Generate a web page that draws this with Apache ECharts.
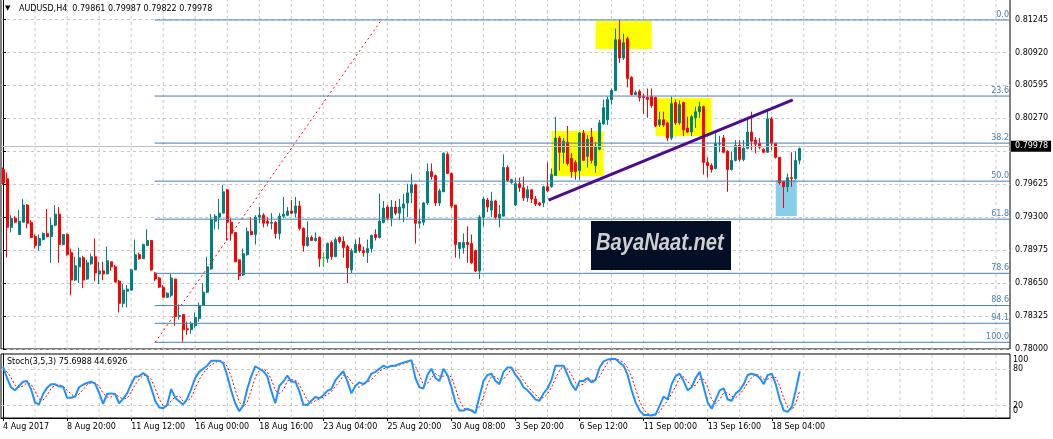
<!DOCTYPE html>
<html><head><meta charset="utf-8">
<script src="https://cdn.jsdelivr.net/npm/echarts/dist/echarts.min.js"></script>
<style>html,body{margin:0;padding:0;background:#fff;overflow:hidden}#c{width:1053px;height:439px}</style>
</head><body><div id="c"></div>
<script>
// ---- data (AUDUSD H4, bars from 4 Aug 2017 08:00) ----
const opens = [0.7977,0.7968,0.7920,0.7929,0.7913,0.7925,0.7942,0.7925,0.7911,0.7902,0.7908,0.7914,0.7911,0.7922,0.7933,0.7903,0.7913,0.7895,0.7868,0.7881,
0.7890,0.7869,0.7884,0.7891,0.7874,0.7877,0.7874,0.7886,0.7881,0.7867,0.7845,0.7857,0.7858,0.7878,0.7893,0.7889,0.7902,0.7907,0.7875,0.7870,
0.7861,0.7851,0.7853,0.7869,0.7832,0.7834,0.7820,0.7819,0.7823,0.7830,0.7843,0.7856,0.7879,0.7926,0.7930,0.7934,0.7957,0.7925,0.7915,0.7888,
0.7873,0.7893,0.7916,0.7913,0.7930,0.7932,0.7926,0.7924,0.7925,0.7914,0.7931,0.7932,0.7936,0.7934,0.7941,0.7919,0.7902,0.7910,0.7907,0.7910,
0.7890,0.7889,0.7905,0.7891,0.7910,0.7906,0.7901,0.7878,0.7895,0.7903,0.7897,0.7895,0.7899,0.7913,0.7910,0.7925,0.7940,0.7929,0.7940,0.7934,
0.7939,0.7944,0.7954,0.7962,0.7924,0.7925,0.7944,0.7975,0.7971,0.7944,0.7955,0.7992,0.7973,0.7942,0.7899,0.7900,0.7905,0.7904,0.7897,0.7877,
0.7930,0.7947,0.7937,0.7946,0.7929,0.7931,0.7979,0.7964,0.7942,0.7963,0.7959,0.7949,0.7957,0.7948,0.7944,0.7944,0.7960,0.7960,0.7971,0.8008,
0.7994,0.8004,0.7988,0.7984,0.7976,0.8013,0.7990,0.8009,0.7981,0.7997,0.8022,0.8026,0.8046,0.8055,0.8105,0.8087,0.8106,0.8068,0.8051,0.8054,
0.8049,0.8048,0.8049,0.8048,0.8021,0.8026,0.8023,0.8008,0.8043,0.8023,0.8043,0.8018,0.8014,0.8028,0.8034,0.8039,0.7984,0.7981,0.7978,0.8002,
0.8008,0.7995,0.7977,0.7986,0.8001,0.7987,0.7998,0.8014,0.8006,0.8003,0.7997,0.7994,0.8027,0.8003,0.7989,0.7965,0.7960,0.7969,0.7968,0.79861];
const highs = [0.7979,0.7974,0.7932,0.7931,0.7937,0.7948,0.7943,0.7927,0.7913,0.7913,0.7915,0.7938,0.7929,0.7942,0.7940,0.7913,0.7914,0.7899,0.7891,0.7900,
0.7892,0.7888,0.7894,0.7909,0.7886,0.7886,0.7901,0.7886,0.7883,0.7868,0.7864,0.7863,0.7879,0.7908,0.7895,0.7904,0.7918,0.7907,0.7876,0.7871,
0.7863,0.7856,0.7874,0.7869,0.7844,0.7834,0.7827,0.7827,0.7836,0.7846,0.7865,0.7891,0.7933,0.7933,0.7948,0.7962,0.7958,0.7929,0.7915,0.7888,
0.7899,0.7920,0.7930,0.7932,0.7940,0.7934,0.7930,0.7934,0.7926,0.7934,0.7950,0.7940,0.7947,0.7950,0.7946,0.7920,0.7926,0.7912,0.7915,0.7911,
0.7895,0.7905,0.7907,0.7910,0.7911,0.7911,0.7903,0.7899,0.7908,0.7910,0.7901,0.7908,0.7913,0.7918,0.7953,0.7946,0.7942,0.7947,0.7946,0.7948,
0.7953,0.7963,0.7973,0.7963,0.7938,0.7945,0.7983,0.7983,0.7972,0.7958,0.7994,0.7994,0.7974,0.7942,0.7905,0.7914,0.7921,0.7913,0.7898,0.7932,
0.7950,0.7949,0.7955,0.7947,0.7942,0.7992,0.7981,0.7968,0.7969,0.7969,0.7970,0.7961,0.7958,0.7951,0.7945,0.7961,0.7984,0.7978,0.8029,0.8010,
0.8008,0.8020,0.7993,0.7986,0.8014,0.8016,0.8011,0.8018,0.8004,0.8026,0.8046,0.8049,0.8057,0.8116,0.81245,0.8111,0.8108,0.8069,0.8055,0.8056,
0.8052,0.8057,0.8057,0.8049,0.8034,0.8034,0.8024,0.8049,0.8046,0.8045,0.8044,0.8029,0.8031,0.8039,0.8044,0.8040,0.7989,0.7983,0.8016,0.8010,
0.8011,0.7996,0.7995,0.8006,0.8006,0.8006,0.8028,0.8034,0.8009,0.8008,0.7998,0.8036,0.8029,0.8003,0.7989,0.7965,0.7973,0.7994,0.7995,0.79987];
const lows = [0.7962,0.7890,0.7915,0.7924,0.7913,0.7925,0.7919,0.7909,0.7899,0.7897,0.7907,0.7910,0.7885,0.7921,0.7885,0.7902,0.7892,0.7853,0.7867,0.7865,
0.7860,0.7868,0.7883,0.7867,0.7864,0.7868,0.7874,0.7877,0.7866,0.7836,0.7841,0.7841,0.7858,0.7878,0.7888,0.7889,0.7902,0.7877,0.7867,0.7860,
0.7851,0.7850,0.7851,0.7823,0.7829,0.7807,0.7814,0.7815,0.7821,0.7827,0.7843,0.7855,0.7878,0.7918,0.7918,0.7934,0.7907,0.7907,0.7886,0.7868,
0.7872,0.7892,0.7912,0.7903,0.7924,0.7920,0.7921,0.7918,0.7909,0.7908,0.7929,0.7931,0.7933,0.7930,0.7917,0.7896,0.7901,0.7907,0.7906,0.7881,
0.7881,0.7885,0.7888,0.7891,0.7904,0.7890,0.7865,0.7875,0.7895,0.7895,0.7891,0.7885,0.7895,0.7907,0.7909,0.7924,0.7927,0.7921,0.7932,0.7927,
0.7925,0.7930,0.7944,0.7904,0.7919,0.7922,0.7942,0.7967,0.7941,0.7941,0.7955,0.7973,0.7939,0.7890,0.7889,0.7894,0.7885,0.7884,0.7876,0.7869,
0.7921,0.7935,0.7930,0.7928,0.7920,0.7931,0.7965,0.7963,0.7941,0.7955,0.7946,0.7945,0.7944,0.7941,0.7941,0.7940,0.7955,0.7959,0.7971,0.7976,
0.7983,0.7981,0.7969,0.7967,0.7967,0.7986,0.7979,0.7983,0.7974,0.7996,0.8021,0.8021,0.8041,0.8055,0.8082,0.8085,0.8058,0.8050,0.8051,0.8044,
0.8032,0.8028,0.8038,0.8019,0.8019,0.8019,0.8005,0.8006,0.8021,0.8021,0.8010,0.8013,0.8010,0.8018,0.8028,0.7972,0.7969,0.7974,0.7977,0.7994,
0.7993,0.7955,0.7976,0.7985,0.7985,0.7985,0.7997,0.7996,0.7993,0.7997,0.7993,0.7994,0.7996,0.7988,0.7962,0.7939,0.7955,0.7960,0.7967,0.79822];
const closes = [0.7964,0.7920,0.7929,0.7925,0.7926,0.7942,0.7924,0.7910,0.7902,0.7909,0.7914,0.7911,0.7922,0.7933,0.7903,0.7913,0.7893,0.7868,0.7882,0.7890,
0.7868,0.7885,0.7891,0.7875,0.7877,0.7874,0.7887,0.7881,0.7866,0.7845,0.7858,0.7859,0.7878,0.7893,0.7889,0.7903,0.7907,0.7878,0.7869,0.7861,
0.7851,0.7855,0.7870,0.7832,0.7833,0.7819,0.7819,0.7825,0.7831,0.7843,0.7856,0.7881,0.7928,0.7931,0.7934,0.7955,0.7925,0.7914,0.7886,0.7872,
0.7894,0.7916,0.7913,0.7930,0.7932,0.7924,0.7924,0.7925,0.7914,0.7931,0.7933,0.7936,0.7934,0.7941,0.7919,0.7902,0.7910,0.7907,0.7909,0.7889,
0.7890,0.7904,0.7891,0.7908,0.7906,0.7900,0.7880,0.7897,0.7903,0.7897,0.7895,0.7899,0.7912,0.7910,0.7926,0.7939,0.7929,0.7940,0.7934,0.7940,
0.7943,0.7954,0.7962,0.7924,0.7926,0.7944,0.7975,0.7970,0.7944,0.7956,0.7993,0.7973,0.7941,0.7903,0.7905,0.7905,0.7903,0.7885,0.7877,0.7930,
0.7948,0.7940,0.7946,0.7930,0.7933,0.7979,0.7966,0.7967,0.7963,0.7959,0.7949,0.7957,0.7948,0.7943,0.7942,0.7960,0.7956,0.7972,0.8008,0.7994,
0.8005,0.7983,0.7975,0.7975,0.8013,0.7986,0.8007,0.7986,0.8000,0.8023,0.8038,0.8046,0.8055,0.8105,0.8087,0.8102,0.8067,0.8051,0.8053,0.8048,
0.8048,0.8046,0.8040,0.8020,0.8026,0.8021,0.8008,0.8042,0.8023,0.8041,0.8016,0.8014,0.8029,0.8034,0.8039,0.7984,0.7981,0.7977,0.8003,0.8003,
0.7994,0.7977,0.7986,0.8001,0.7987,0.7998,0.8014,0.8005,0.8002,0.7999,0.7994,0.8027,0.8003,0.7989,0.7964,0.7960,0.7969,0.7968,0.7986,0.79978];
const stochK = [84,65,50,45,52,59,60,47,25,22,39,49,55,55,51,51,33,33,35,50,54,57,59,56,41,23,39,40,39,24,
31,40,55,67,68,73,68,49,28,17,16,21,47,33,27,22,31,47,65,75,80,85,93,93,93,89,69,44,24,11,
20,47,68,84,80,76,68,44,24,52,59,69,59,59,44,22,21,28,34,32,37,44,47,61,69,76,60,40,52,58,
55,60,72,75,80,85,82,85,85,88,90,92,94,65,50,48,70,80,65,60,80,70,50,25,12,12,15,12,8,35,
60,70,72,60,55,75,82,82,70,62,50,45,38,30,28,40,48,62,85,85,85,70,55,45,60,60,65,58,62,82,
92,95,96,96,90,85,70,45,25,12,5,5,4,6,20,35,30,55,68,72,60,45,50,65,75,50,25,15,30,45,
48,30,28,40,45,55,70,72,70,65,55,70,72,55,30,12,10,18,45,75.6988];
const stochD = [80,75,66,53,49,52,57,55,44,31,29,37,48,53,54,52,45,39,34,39,46,54,57,57,52,40,34,34,39,34,
31,32,42,54,63,69,70,63,48,31,20,18,28,34,36,27,27,33,48,62,73,80,86,90,93,92,84,67,46,26,
18,26,45,66,77,80,75,63,45,40,45,60,62,62,54,42,29,24,28,31,34,38,43,51,59,69,68,59,51,50,
55,58,62,69,76,80,82,84,84,86,88,90,92,84,70,54,56,66,72,68,68,70,67,48,29,16,13,13,12,18,
34,55,67,67,62,63,71,80,78,71,61,52,44,38,32,33,39,50,65,77,85,80,70,57,53,55,62,61,62,67,
79,90,94,96,94,90,82,67,47,27,14,7,5,5,10,20,28,40,51,65,67,59,52,53,63,63,50,30,23,30,
41,41,35,33,38,47,57,66,71,69,63,63,66,66,52,32,17,13,24,44.6926];
const xTickLabels = ['4 Aug 2017','8 Aug 20:00','11 Aug 12:00','16 Aug 00:00','18 Aug 16:00','23 Aug 04:00','25 Aug 20:00','30 Aug 08:00','3 Sep 20:00','6 Sep 12:00','11 Sep 00:00','13 Sep 16:00','18 Sep 04:00'];
const xTickIdx = [0,16,32,48,64,80,96,112,128,144,160,176,192];
const yTickLabels = ['0.78000','0.78325','0.78650','0.78975','0.79300','0.79625','','0.80270','0.80595','0.80920','0.81245'];
const stochTickLabels = {20:'20',80:'80'};
const stochEdgeLabels = ['100','0'];
const fibLevels = [0,23.6,38.2,50,61.8,78.6,88.6,94.1,100];
const fibHigh = 0.81245, fibLow = 0.78066, fibStartBar = 38, fibEndBar = 94.5;
const trendLine = [[136.25,0.79469],[197.25,0.80456]];
const boxes = [
  {from:[137,0.80150], to:[150,0.79706], color:'#ffff00'},
  {from:[148,0.81235], to:[162,0.80959], color:'#ffff00'},
  {from:[163,0.80475], to:[177,0.80101], color:'#ffff00'},
  {from:[193,0.79667], to:[198.25,0.79312], color:'#87ceeb'}
];
const lastPrice = 0.79978;
const header = 'AUDUSD,H4  0.79861 0.79987 0.79822 0.79978';
const stochTitle = 'Stoch(3,5,3) 75.6988 44.6926';

// ---- chart ----
const N = 252;
const FONT = 'DejaVu Sans';
const BULL = '#008080', BEAR = '#ff0000', DOJI = '#00e000';
const cats = Array.from({length:N},(_,i)=>String(i));
const labelAt = {}; xTickIdx.forEach((b,k)=>labelAt[b]=xTickLabels[k]);
const candleData = opens.map((o,i)=>{
  const v=[o,closes[i],lows[i],highs[i]];
  if (o===closes[i]) return {value:v,itemStyle:{color:DOJI,color0:DOJI,borderColor:DOJI,borderColor0:DOJI}};
  return v;
});
const vGrid = []; for (let b=8;b<N;b+=8) vGrid.push(b);
const YMIN=0.78, YMAX=0.81452, YSTEP=0.00325;
const mainV=[], stochV=[];
vGrid.forEach(b=>{mainV.push([b,YMIN],[b,YMAX],[b,'-']);stochV.push([b,0],[b,104],[b,'-']);});

const fibSeries = fibLevels.map(l=>{
  const p = fibHigh-(fibHigh-fibLow)*l/100;
  return {type:'line',xAxisIndex:2,yAxisIndex:0,silent:true,z:3,symbol:'circle',symbolSize:1,showSymbol:true,
    lineStyle:{color:'#4682b4',width:1},itemStyle:{color:'#4682b4'},
    data:[[fibStartBar,p],{value:[N-0.5,p],label:{show:true,formatter:l.toFixed(1),position:'top',align:'right',distance:1,offset:[-1,0],color:'#4a7ebb',fontSize:8,fontFamily:FONT}}]};
});

const chart = echarts.init(document.getElementById('c'),null,{renderer:'canvas'});
chart.setOption({
  animation:false,
  backgroundColor:'#ffffff',
  grid:[
    {left:1,top:-1,width:1009,height:350,show:true,borderColor:'#000',borderWidth:1,backgroundColor:'transparent',containLabel:false,outerBoundsMode:'none'},
    {left:1,top:354,width:1009,height:64,show:true,borderColor:'#000',borderWidth:1,backgroundColor:'transparent',containLabel:false,outerBoundsMode:'none'}
  ],
  xAxis:[
    {type:'category',gridIndex:0,data:cats,boundaryGap:true,axisLine:{show:false},axisTick:{show:false},axisLabel:{show:false},splitLine:{show:false}},
    {type:'category',gridIndex:1,data:cats,boundaryGap:true,axisLine:{show:true,lineStyle:{color:'#000'}},
      axisTick:{show:true,alignWithLabel:true,length:3,interval:(i)=>labelAt[i]!==undefined,lineStyle:{color:'#000'}},
      axisLabel:{show:true,interval:(i)=>labelAt[i]!==undefined,formatter:(v,i)=>labelAt[i]||'',align:'left',margin:5,color:'#000',fontSize:8,fontFamily:FONT,hideOverlap:false},
      splitLine:{show:false}},
    {type:'value',gridIndex:0,min:-0.5,max:N-0.5,show:false},
    {type:'value',gridIndex:1,min:-0.5,max:N-0.5,show:false}
  ],
  yAxis:[
    {type:'value',gridIndex:0,position:'right',min:YMIN,max:YMAX,interval:YSTEP,
      axisLine:{show:true,lineStyle:{color:'#000'}},axisTick:{show:true,length:3,lineStyle:{color:'#000'}},
      axisLabel:{show:true,margin:5,color:'#000',fontSize:8,fontFamily:FONT,hideOverlap:false,showMaxLabel:true,showMinLabel:true,
        formatter:(v)=>{const k=Math.round((v-YMIN)/YSTEP);return Math.abs(v-(YMIN+k*YSTEP))<1e-7?(yTickLabels[k]||''):'';}},
      splitLine:{show:true,lineStyle:{color:'#c8c8c8',type:[3,3],width:1}}},
    {type:'value',gridIndex:1,position:'right',min:0,max:104,interval:20,
      axisLine:{show:true,lineStyle:{color:'#000'}},axisTick:{show:false},
      axisLabel:{show:true,margin:3,color:'#000',fontSize:8,fontFamily:FONT,hideOverlap:false,showMinLabel:false,showMaxLabel:false,
        formatter:(v)=>stochTickLabels[v]||''},
      splitLine:{show:false}}
  ],
  series:[
    {type:'line',xAxisIndex:2,yAxisIndex:0,data:mainV,symbol:'none',silent:true,z:0,connectNulls:false,lineStyle:{color:'#c8c8c8',type:[3,3],width:1}},
    {type:'line',xAxisIndex:3,yAxisIndex:1,data:stochV,symbol:'none',silent:true,z:0,connectNulls:false,lineStyle:{color:'#c8c8c8',type:[3,3],width:1}},
    {type:'line',xAxisIndex:2,yAxisIndex:0,silent:true,z:3,symbol:'none',
      data:[[fibStartBar,fibLow],[fibEndBar,fibHigh]],lineStyle:{color:'#ff0000',width:1,type:[2,3]},
      markArea:{silent:true,z:1,data:boxes.map(b=>[{coord:b.from,itemStyle:{color:b.color,opacity:1}},{coord:b.to}])}},
    {type:'candlestick',xAxisIndex:0,yAxisIndex:0,data:candleData,barWidth:2.5,z:2,silent:true,
      itemStyle:{color:BULL,color0:BEAR,borderColor:BULL,borderColor0:BEAR,borderWidth:1},
      markLine:{silent:true,symbol:'none',z:4,data:[{yAxis:lastPrice}],lineStyle:{color:'#c0c0c0',type:'solid',width:1},
        label:{show:true,position:'end',distance:1,formatter:lastPrice.toFixed(5),color:'#fff',backgroundColor:'#000',padding:[2,3,1,4],fontSize:8,fontFamily:FONT}}},
    ...fibSeries,
    {type:'line',xAxisIndex:2,yAxisIndex:0,silent:true,z:4,symbol:'none',data:trendLine,lineStyle:{color:'#500a8c',width:3}},
    {type:'line',xAxisIndex:1,yAxisIndex:1,silent:true,z:3,symbol:'none',data:stochD,lineStyle:{color:'#ff0000',width:1,type:[2,2]},
      markLine:{silent:true,symbol:'none',z:1,label:{show:false},data:[{yAxis:80},{yAxis:20}],lineStyle:{color:'#c8c8c8',type:[3,3],width:1}}},
    {type:'line',xAxisIndex:1,yAxisIndex:1,silent:true,z:4,symbol:'none',data:stochK,lineStyle:{color:'#1e90ff',width:2}}
  ],
  graphic:[
    {type:'text',left:5,top:5,z:10,style:{text:'\u25BC',font:'7px "DejaVu Sans"',fill:'#000'}},
    {type:'text',left:19,top:5,z:10,style:{text:header,font:'8px "DejaVu Sans"',fill:'#000'}},
    {type:'text',left:7,top:358,z:10,style:{text:stochTitle,font:'8px "DejaVu Sans"',fill:'#000'}},
    {type:'text',x:1013,y:356,z:10,style:{text:stochEdgeLabels[0],font:'8px "DejaVu Sans"',fill:'#000'}},
    {type:'text',x:1013,y:407,z:10,style:{text:stochEdgeLabels[1],font:'8px "DejaVu Sans"',fill:'#000'}},
    {type:'rect',z:5,shape:{x:591,y:221,width:140,height:49},style:{fill:'#030f24'}},
    {type:'text',z:6,x:596,y:231,scaleX:0.84,style:{text:'BayaNaat.net',font:'bold italic 24px "Liberation Sans"',fill:'#cfcfcf'}}
  ]
});
</script>
</body></html>
